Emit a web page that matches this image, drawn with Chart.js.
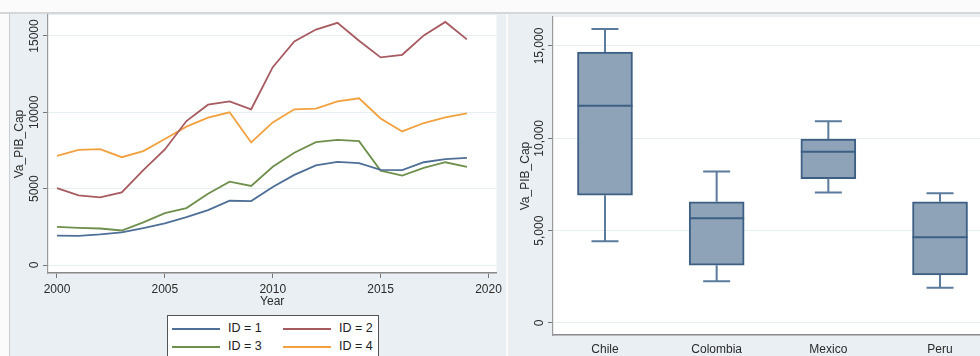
<!DOCTYPE html>
<html>
<head>
<meta charset="utf-8">
<script src="https://cdn.jsdelivr.net/npm/chart.js@4.4.1/dist/chart.umd.min.js"></script>
<style>
  body { margin: 0; width: 980px; height: 356px; background: #fbfbfb; position: relative; overflow: hidden; font-family: "Liberation Sans", Arial, sans-serif; }
  #topline { position: absolute; left: 0; top: 12px; width: 980px; height: 2px; background: #d4d6d8; }
  .panel { position: absolute; top: 14px; height: 342px; background: #e9eff2; }
  #leftPanel { left: 9px; width: 497px; border-left: 1px solid #c9cdd0; box-sizing: border-box; }
  #rightPanel { left: 508px; width: 472px; }
  canvas { position: absolute; }
  #legend { position: absolute; left: 167px; top: 315px; width: 212px; height: 50px; background: #fff; border: 1px solid #555; box-sizing: border-box; }
  .item { position: absolute; font-size: 12.5px; color: #222; line-height: 14px; }
  .swatch { position: absolute; height: 2px; width: 48px; }
</style>
</head>
<body>
<div id="topline"></div>
<div class="panel" id="leftPanel"></div>
<div class="panel" id="rightPanel"></div>
<canvas id="lineChart" width="497" height="342" style="left:9px;top:14px;"></canvas>
<canvas id="boxChart" width="472" height="342" style="left:508px;top:14px;"></canvas>
<div id="legend"></div>
<script>
// ---- data ----
const years = [2000, 2001, 2002, 2003, 2004, 2005, 2006, 2007, 2008, 2009, 2010,
  2011, 2012, 2013, 2014, 2015, 2016, 2017, 2018, 2019];
const id1 = [1930, 1910, 2000, 2130, 2410, 2720, 3140, 3600, 4210, 4190, 5110,
  5900, 6530, 6750, 6670, 6230, 6210, 6730, 6930, 7020];
const id2 = [5040, 4560, 4430, 4760, 6210, 7570, 9430, 10500, 10720, 10200, 12960,
  14650, 15420, 15860, 14690, 13600, 13770, 15040, 15920, 14780];
const id3 = [2500, 2430, 2390, 2260, 2790, 3400, 3730, 4670, 5460, 5180, 6430,
  7350, 8050, 8200, 8110, 6180, 5860, 6360, 6730, 6430];
const id4 = [7150, 7540, 7590, 7060, 7460, 8250, 9060, 9650, 10000, 8030, 9340,
  10200, 10240, 10720, 10920, 9600, 8750, 9300, 9670, 9930];
const seriesNames = ["ID = 1", "ID = 2", "ID = 3", "ID = 4"];
const seriesColors = ["#4e6f97", "#a85a61", "#6f8f4c", "#f2a13e"];
const xTicks = [2000, 2005, 2010, 2015, 2020];
const yTicksLine = [0, 5000, 10000, 15000];
const yLabelsLine = ["0", "5000", "10000", "15000"];

const countries = ["Chile", "Colombia", "Mexico", "Peru"];
const boxMin = [4430, 2260, 7060, 1910];
const boxQ1 = [6920, 3130, 7820, 2600];
const boxMedian = [11760, 5670, 9270, 4650];
const boxQ3 = [14670, 6560, 9960, 6560];
const boxMax = [15920, 8200, 10920, 7020];
const yTicksBox = [0, 5000, 10000, 15000];
const yLabelsBox = ["0", "5,000", "10,000", "15,000"];

const font12 = { family: "'Liberation Sans', Arial, sans-serif", size: 12 };
const textColor = "#2b2b2b";

// white plot region
const plotBg = {
  id: "plotBg",
  beforeDraw(chart) {
    const a = chart.chartArea;
    chart.ctx.save();
    chart.ctx.fillStyle = "#ffffff";
    chart.ctx.fillRect(a.left, a.top, a.right - a.left, a.bottom - a.top);
    chart.ctx.restore();
  },
};

// y tick labels drawn rotated like the original
function rotatedYLabels(values, labels, xPos) {
  return {
    id: "rotY",
    afterDraw(chart) {
      const ctx = chart.ctx;
      const scale = chart.scales.y;
      ctx.save();
      ctx.font = "12px 'Liberation Sans', Arial, sans-serif";
      ctx.fillStyle = textColor;
      ctx.textAlign = "center";
      ctx.textBaseline = "middle";
      values.forEach((v, i) => {
        const y = scale.getPixelForValue(v);
        ctx.save();
        ctx.translate(xPos, y);
        ctx.rotate(-Math.PI / 2);
        ctx.fillText(labels[i], 0, 0);
        ctx.restore();
      });
      ctx.restore();
    },
  };
}

// ---- line chart ----
new Chart(document.getElementById("lineChart"), {
  type: "line",
  data: {
    datasets: [id1, id2, id3, id4].map((s, k) => ({
      label: seriesNames[k],
      data: years.map((yr, i) => ({ x: yr, y: s[i] })),
      borderColor: seriesColors[k],
      borderWidth: 1.8,
      pointRadius: 0,
      tension: 0,
      fill: false,
    })),
  },
  options: {
    responsive: false,
    animation: false,
    layout: { padding: { top: 1, right: 9, left: 0, bottom: 0 } },
    plugins: { legend: { display: false }, tooltip: { enabled: false } },
    scales: {
      x: {
        type: "linear",
        min: 1999.583,
        max: 2020.37,
        afterBuildTicks: (s) => { s.ticks = xTicks.map((v) => ({ value: v })); },
        afterFit: (s) => { s.height = 83; },
        ticks: { font: font12, color: textColor, padding: 4, maxRotation: 0, callback: (v) => String(v) },
        grid: { drawOnChartArea: false, drawTicks: true, tickLength: 5, tickColor: "#777" },
        border: { color: "#8a8a8a", width: 1.5 },
        title: { display: true, text: "Year", font: font12, color: textColor, padding: { top: 0, bottom: 47 } },
      },
      y: {
        min: -524,
        max: 16375,
        afterBuildTicks: (s) => { s.ticks = yTicksLine.map((v) => ({ value: v })); },
        afterFit: (s) => { s.width = 39; },
        ticks: { display: false },
        grid: { color: "#e6eef0", lineWidth: 1, drawTicks: true, tickLength: 5, tickColor: "#777" },
        border: { color: "#9a9a9a", width: 1.2 },
        title: { display: true, text: "Va_PIB_Cap", font: font12, color: textColor, padding: { top: 3, bottom: 0 } },
      },
    },
  },
  plugins: [plotBg, rotatedYLabels(yTicksLine, yLabelsLine, 26)],
});

// legend built from the series arrays
const legend = document.getElementById("legend");
seriesNames.forEach((name, k) => {
  const col = k % 2, row = Math.floor(k / 2);
  const sw = document.createElement("div");
  sw.className = "swatch";
  sw.style.background = seriesColors[k];
  sw.style.left = (4 + col * 111) + "px";
  sw.style.top = (12 + row * 18) + "px";
  legend.appendChild(sw);
  const t = document.createElement("div");
  t.className = "item";
  t.textContent = name;
  t.style.left = (60 + col * 111) + "px";
  t.style.top = (5 + row * 18) + "px";
  legend.appendChild(t);
});

// ---- box plot: floating bars for the boxes, whiskers/median through the scales ----
const boxPlugin = {
  id: "whiskers",
  afterDatasetsDraw(chart) {
    const ctx = chart.ctx;
    const xs = chart.scales.x, ys = chart.scales.y;
    const bars = chart.getDatasetMeta(0).data;
    ctx.save();
    countries.forEach((c, i) => {
      const x = xs.getPixelForValue(i + 1);
      const half = bars[i].width / 2;
      ctx.lineCap = "butt";
      // whiskers
      ctx.strokeStyle = "#5b7b9d";
      ctx.lineWidth = 2;
      ctx.beginPath();
      ctx.moveTo(x, ys.getPixelForValue(boxQ3[i]));
      ctx.lineTo(x, ys.getPixelForValue(boxMax[i]));
      ctx.moveTo(x, ys.getPixelForValue(boxQ1[i]));
      ctx.lineTo(x, ys.getPixelForValue(boxMin[i]));
      ctx.moveTo(x - 13.5, ys.getPixelForValue(boxMax[i]));
      ctx.lineTo(x + 13.5, ys.getPixelForValue(boxMax[i]));
      ctx.moveTo(x - 13.5, ys.getPixelForValue(boxMin[i]));
      ctx.lineTo(x + 13.5, ys.getPixelForValue(boxMin[i]));
      ctx.stroke();
      // median
      ctx.strokeStyle = "#3d5f84";
      ctx.beginPath();
      ctx.moveTo(x - half, ys.getPixelForValue(boxMedian[i]));
      ctx.lineTo(x + half, ys.getPixelForValue(boxMedian[i]));
      ctx.stroke();
    });
    ctx.restore();
  },
};

new Chart(document.getElementById("boxChart"), {
  type: "bar",
  data: {
    datasets: [{
      data: countries.map((c, i) => ({ x: i + 1, y: [boxQ1[i], boxQ3[i]] })),
      backgroundColor: "#8ea3b8",
      borderColor: "#3d5f84",
      borderWidth: 2,
      borderSkipped: false,
      barThickness: 55,
    }],
  },
  options: {
    responsive: false,
    animation: false,
    layout: { padding: { top: 3, right: 0, left: 0, bottom: 0 } },
    plugins: { legend: { display: false }, tooltip: { enabled: false } },
    scales: {
      x: {
        type: "linear",
        offset: false,
        min: 0.5345,
        max: 4.358,
        afterBuildTicks: (s) => { s.ticks = countries.map((c, i) => ({ value: i + 1 })); },
        afterFit: (s) => { s.height = 21; },
        ticks: { font: font12, color: textColor, padding: 2, maxRotation: 0, callback: (v) => countries[v - 1] },
        grid: { offset: false, drawOnChartArea: false, drawTicks: true, tickLength: 5, tickColor: "rgba(0,0,0,0)" },
        border: { color: "#8a8a8a", width: 1.5 },
      },
      y: {
        min: -650,
        max: 16570,
        afterBuildTicks: (s) => { s.ticks = yTicksBox.map((v) => ({ value: v })); },
        afterFit: (s) => { s.width = 45; },
        ticks: { display: false },
        grid: { color: "#e6eef0", lineWidth: 1, drawTicks: true, tickLength: 5, tickColor: "#777" },
        border: { color: "#9a9a9a", width: 1.2 },
        title: { display: true, text: "Va_PIB_Cap", font: font12, color: textColor, padding: { top: 10, bottom: 0 } },
      },
    },
  },
  plugins: [plotBg, boxPlugin, rotatedYLabels(yTicksBox, yLabelsBox, 32)],
});
</script>
</body>
</html>
